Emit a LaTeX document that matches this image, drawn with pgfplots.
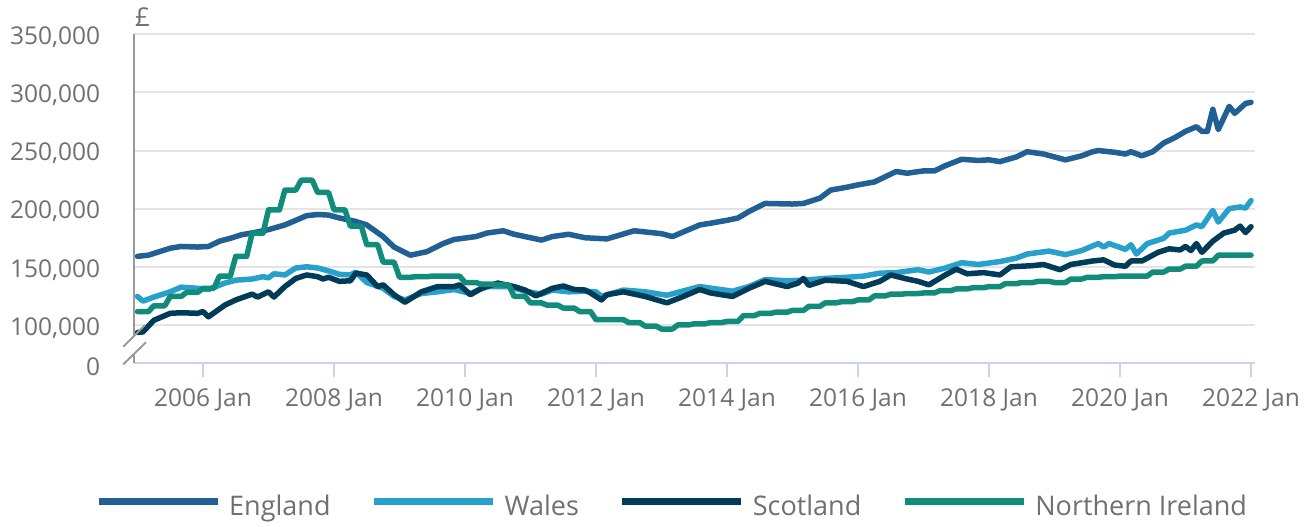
\documentclass[border=0pt]{standalone}
\usepackage{fontspec}
\setmainfont{Open Sans}
\usepackage{pgfplots}
\pgfplotsset{compat=1.18}
\definecolor{eng}{HTML}{206095}
\definecolor{wal}{HTML}{27A0CC}
\definecolor{sco}{HTML}{003C57}
\definecolor{nir}{HTML}{118C7B}
\definecolor{txt}{HTML}{707070}
\definecolor{grd}{HTML}{E4E4E4}
\definecolor{xax}{HTML}{C9D3EA}
\definecolor{yax}{HTML}{9A9A9A}
\begin{document}
\begin{tikzpicture}
\useasboundingbox (-134.3bp,-163.7bp) rectangle (1176.7bp,363.3bp);
\begin{axis}[
 at={(0,0)}, anchor=south west,
 scale only axis, width=1120.7bp, height=329bp,
 xmin=2004.951, xmax=2022.061, ymin=67000, ymax=350000,
 axis x line*=bottom, axis y line*=left,
 x axis line style={draw=xax, line width=2bp, -},
 y axis line style={draw=none},
 xtick={2006,2008,...,2022},
 xticklabels={2006 Jan,2008 Jan,2010 Jan,2012 Jan,2014 Jan,2016 Jan,2018 Jan,2020 Jan,2022 Jan},
 xtick style={draw=xax, line width=2bp},
 major tick length=14bp,
 tick align=outside,
 xticklabel style={anchor=north, inner sep=0pt, yshift=-11bp},
 ytick={100000,150000,...,350000},
 yticklabels={{100,000},{150,000},{200,000},{250,000},{300,000},{350,000}},
 extra y ticks={67000}, extra y tick labels={0}, extra y tick style={grid=none},
 ytick style={draw=none},
 ymajorgrids, grid style={draw=grd, line width=2bp},
 ticklabel style={font=\fontsize{24.5bp}{29bp}\selectfont, text=txt},
 yticklabel style={anchor=east, inner sep=0pt, xshift=-20bp, yshift=-3bp},
 scaled y ticks=false,
 legend columns=4,
 legend cell align=left,
 legend style={at={(0.479,-0.4328)}, anchor=center, draw=none, fill=none,
   font=\fontsize{27bp}{31bp}\selectfont, text=txt, inner sep=0pt,
   nodes={inner sep=0pt},
   /tikz/every odd column/.append style={column sep=8bp},
   /tikz/every even column/.append style={column sep=40bp}},
 legend image code/.code={\path[draw=none, fill=none] (0bp,-10bp) rectangle (119bp,10bp); \draw[#1, line width=7bp, line cap=butt] (0bp,4bp) -- (119bp,4bp);},
 every axis plot/.append style={line width=5.5bp, line join=round, line cap=round},
]
\addplot[eng] coordinates {(2005.000,159000) (2005.167,160000) (2005.500,166000) (2005.667,167500) (2005.917,167000) (2006.083,167500) (2006.250,172000) (2006.417,174500) (2006.583,177500) (2006.833,180000) (2007.000,182000) (2007.250,186000) (2007.417,190000) (2007.583,194000) (2007.750,195000) (2007.917,194500) (2008.083,192000) (2008.333,189000) (2008.500,186000) (2008.750,176000) (2008.917,167000) (2009.167,160000) (2009.417,163000) (2009.667,170000) (2009.833,173500) (2010.167,176000) (2010.333,179000) (2010.583,181000) (2010.750,178000) (2010.917,176000) (2011.167,173000) (2011.333,176000) (2011.583,178000) (2011.833,175000) (2012.167,174000) (2012.583,181000) (2013.000,178500) (2013.167,176000) (2013.583,186000) (2013.750,187500) (2014.000,190000) (2014.167,192000) (2014.333,197500) (2014.583,204500) (2015.000,204000) (2015.167,204500) (2015.417,209000) (2015.583,216000) (2015.833,218500) (2016.000,220500) (2016.250,223000) (2016.417,227500) (2016.583,232000) (2016.750,230500) (2017.000,232500) (2017.167,232500) (2017.333,237000) (2017.583,242500) (2017.833,241500) (2018.000,242000) (2018.167,240500) (2018.417,244500) (2018.583,249000) (2018.833,247000) (2019.000,244500) (2019.167,242000) (2019.417,245500) (2019.583,249000) (2019.667,250000) (2019.917,248500) (2020.083,247000) (2020.167,249000) (2020.333,245500) (2020.500,249000) (2020.667,256500) (2020.833,261000) (2021.000,266500) (2021.167,270500) (2021.250,266500) (2021.333,266500) (2021.417,285500) (2021.500,268000) (2021.667,288000) (2021.750,282000) (2021.917,290500) (2022.000,291500)};
\addlegendentry{England}
\addplot[wal] coordinates {(2005.000,124500) (2005.083,120500) (2005.250,124000) (2005.500,128500) (2005.667,132500) (2005.917,131500) (2006.083,130500) (2006.333,136000) (2006.500,138500) (2006.750,139500) (2006.917,141500) (2007.000,140500) (2007.083,144000) (2007.250,143000) (2007.417,149000) (2007.583,150000) (2007.750,149000) (2007.917,146500) (2008.083,143500) (2008.250,143000) (2008.333,145500) (2008.500,136500) (2008.750,131500) (2008.917,124500) (2009.083,121500) (2009.333,127000) (2009.583,128500) (2009.833,130500) (2010.083,127000) (2010.333,133000) (2010.667,133000) (2010.917,129000) (2011.167,126500) (2011.333,130000) (2011.583,128500) (2011.833,129000) (2012.000,128500) (2012.083,124500) (2012.417,130000) (2012.750,128500) (2013.083,125500) (2013.583,133000) (2014.083,129000) (2014.333,133000) (2014.583,139000) (2014.917,138000) (2015.167,138500) (2015.500,140000) (2015.833,141000) (2016.083,142000) (2016.333,144500) (2016.583,145000) (2016.917,147500) (2017.083,145500) (2017.333,149000) (2017.583,153500) (2017.833,152000) (2018.167,154500) (2018.417,157500) (2018.583,161000) (2018.917,163500) (2019.167,160500) (2019.417,164000) (2019.667,170000) (2019.750,167000) (2019.833,170000) (2020.083,165000) (2020.167,169000) (2020.250,161000) (2020.417,170000) (2020.667,174500) (2020.750,179000) (2021.000,181500) (2021.167,186000) (2021.250,184500) (2021.417,198500) (2021.500,188500) (2021.667,200000) (2021.833,201500) (2021.917,200500) (2022.000,207000)};
\addlegendentry{Wales}
\addplot[sco] coordinates {(2005.000,93500) (2005.083,94000) (2005.250,104000) (2005.500,110000) (2005.667,110500) (2005.917,110000) (2006.000,111500) (2006.083,107000) (2006.333,117000) (2006.500,121500) (2006.750,126500) (2006.833,124000) (2007.000,128500) (2007.083,124000) (2007.250,133000) (2007.417,140000) (2007.583,143000) (2007.750,141500) (2007.833,139500) (2007.917,141000) (2008.083,137500) (2008.250,138000) (2008.333,144500) (2008.500,143000) (2008.667,133000) (2008.750,134500) (2008.917,126000) (2009.083,119500) (2009.333,128500) (2009.583,133000) (2009.833,133000) (2009.917,134500) (2010.083,126000) (2010.250,131500) (2010.500,136000) (2010.750,133000) (2010.917,130000) (2011.083,125000) (2011.333,131500) (2011.500,133500) (2011.667,130500) (2011.833,130000) (2011.917,127500) (2012.083,121500) (2012.167,126000) (2012.417,128500) (2012.750,124500) (2013.083,119000) (2013.333,124500) (2013.583,130500) (2013.750,127500) (2014.083,124500) (2014.333,131500) (2014.583,137500) (2014.917,133000) (2015.083,136000) (2015.167,140000) (2015.250,134000) (2015.500,138500) (2015.833,137500) (2016.083,133000) (2016.333,137500) (2016.500,143000) (2016.750,139500) (2016.917,137500) (2017.083,134500) (2017.333,143000) (2017.500,148000) (2017.667,144000) (2017.917,145000) (2018.167,143000) (2018.333,150000) (2018.667,151000) (2018.833,152000) (2019.083,147500) (2019.250,152000) (2019.583,155000) (2019.750,156000) (2019.917,151500) (2020.083,150500) (2020.167,155000) (2020.333,155000) (2020.417,157500) (2020.583,162500) (2020.750,165500) (2020.917,164500) (2021.000,167500) (2021.083,164000) (2021.167,170000) (2021.250,162500) (2021.417,172000) (2021.583,179000) (2021.750,181500) (2021.833,185000) (2021.917,179500) (2022.000,184500)};
\addlegendentry{Scotland}
\addplot[nir] coordinates {
(2005.000,111500) (2005.167,111500) (2005.250,116500) (2005.417,116500) (2005.500,124500) (2005.667,124500) (2005.750,128000) (2005.917,128000)
(2006.000,131500) (2006.167,131500) (2006.250,142000) (2006.417,142000) (2006.500,159000) (2006.667,159000) (2006.750,179000) (2006.917,179000)
(2007.000,199000) (2007.167,199000) (2007.250,216000) (2007.417,216000) (2007.500,224500) (2007.667,224500) (2007.750,214000) (2007.917,214000)
(2008.000,199000) (2008.167,199000) (2008.250,185000) (2008.417,185000) (2008.500,169000) (2008.667,169000) (2008.750,154000) (2008.917,154000)
(2009.000,141000) (2009.167,141000) (2009.250,141500) (2009.417,141500) (2009.500,142000) (2009.667,142000) (2009.750,142000) (2009.917,142000)
(2010.000,136500) (2010.167,136500) (2010.250,135000) (2010.417,135000) (2010.500,134500) (2010.667,134500) (2010.750,124500) (2010.917,124500)
(2011.000,119000) (2011.167,119000) (2011.250,117000) (2011.417,117000) (2011.500,114500) (2011.667,114500) (2011.750,111500) (2011.917,111500)
(2012.000,104500) (2012.167,104500) (2012.250,104500) (2012.417,104500) (2012.500,102000) (2012.667,102000) (2012.750,99000) (2012.917,99000)
(2013.000,96500) (2013.167,96500) (2013.250,100000) (2013.417,100000) (2013.500,101000) (2013.667,101000) (2013.750,102000) (2013.917,102000)
(2014.000,103000) (2014.167,103000) (2014.250,108000) (2014.417,108000) (2014.500,110000) (2014.667,110000) (2014.750,111000) (2014.917,111000)
(2015.000,112500) (2015.167,112500) (2015.250,116000) (2015.417,116000) (2015.500,119000) (2015.667,119000) (2015.750,120000) (2015.917,120000)
(2016.000,121500) (2016.167,121500) (2016.250,125000) (2016.417,125000) (2016.500,126500) (2016.667,126500) (2016.750,127000) (2016.917,127000)
(2017.000,127500) (2017.167,127500) (2017.250,129500) (2017.417,129500) (2017.500,131000) (2017.667,131000) (2017.750,132000) (2017.917,132000)
(2018.000,133000) (2018.167,133000) (2018.250,135500) (2018.417,135500) (2018.500,136500) (2018.667,136500) (2018.750,137500) (2018.917,137500)
(2019.000,136500) (2019.167,136500) (2019.250,139500) (2019.417,139500) (2019.500,141000) (2019.667,141000) (2019.750,141500) (2019.917,141500)
(2020.000,142000) (2020.167,142000) (2020.250,142000) (2020.417,142000) (2020.500,145500) (2020.667,145500) (2020.750,148000) (2020.917,148000)
(2021.000,150500) (2021.167,150500) (2021.250,155000) (2021.417,155000) (2021.500,160000) (2021.667,160000) (2021.750,160000) (2021.917,160000)
(2022.000,160000)};
\addlegendentry{Northern Ireland}
\end{axis}
% y axis line with break
\draw[yax, line width=2bp] (0bp,329bp) -- (0bp,27.3bp);
\draw[yax, line width=2bp] (0bp,8.3bp) -- (0bp,0bp);
\draw[yax, line width=2bp] (-11bp,16.6bp) -- (10.7bp,38.3bp);
\draw[yax, line width=2bp] (-11bp,-1bp) -- (11.7bp,21bp);
\node[anchor=base, inner sep=0pt, text=txt, font=\fontsize{26bp}{30bp}\selectfont] at (8.2bp,336.3bp) {£};
\end{tikzpicture}
\end{document}
